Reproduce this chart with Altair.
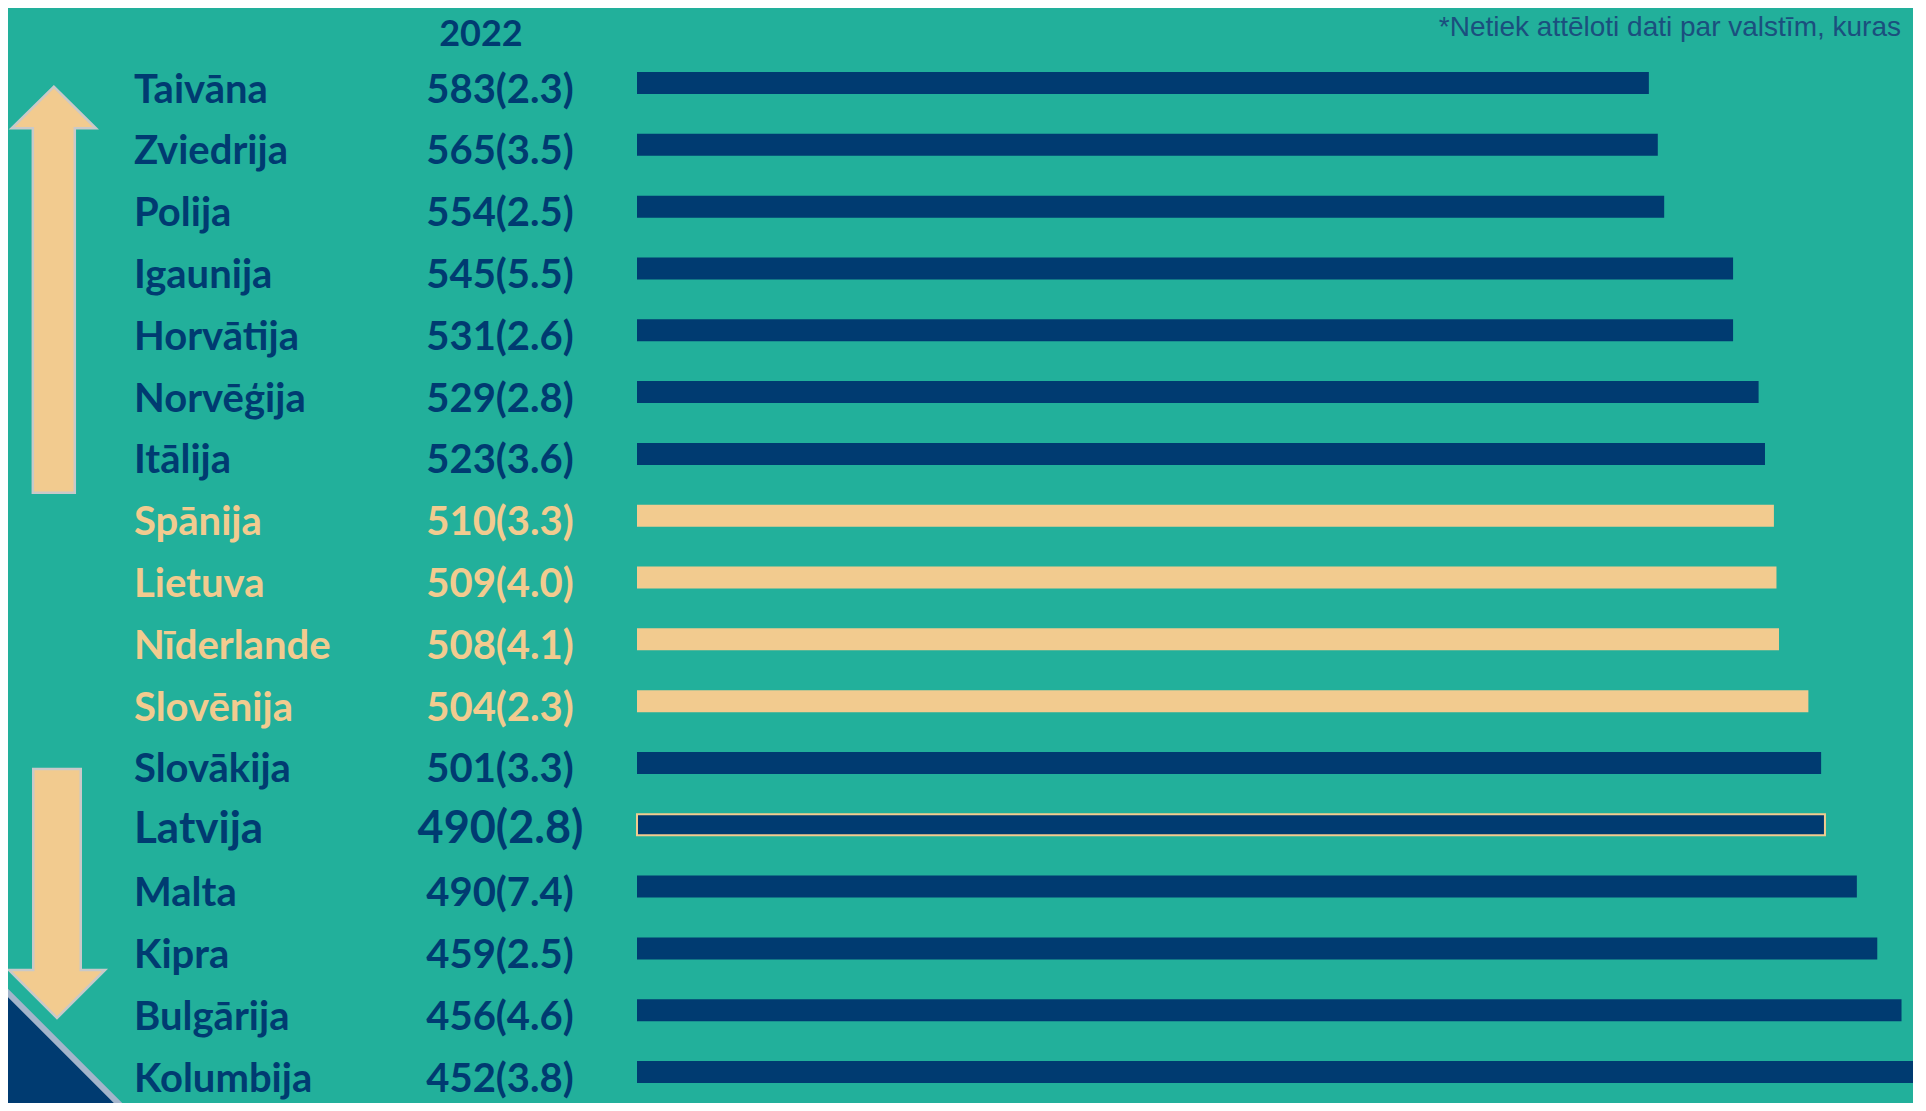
import altair as alt
import pandas as pd

# ---- data ----
countries = ["Taivāna", "Zviedrija", "Polija", "Igaunija", "Horvātija", "Norvēģija",
             "Itālija", "Spānija", "Lietuva", "Nīderlande", "Slovēnija", "Slovākija",
             "Latvija", "Malta", "Kipra", "Bulgārija", "Kolumbija"]
scores = [583, 565, 554, 545, 531, 529, 523, 510, 509, 508, 504, 501, 490, 490, 459, 456, 452]
std_err = [2.3, 3.5, 2.5, 5.5, 2.6, 2.8, 3.6, 3.3, 4.0, 4.1, 2.3, 3.3, 2.8, 7.4, 2.5, 4.6, 3.8]
bar_len = [79.3, 80.0, 80.5, 85.9, 85.9, 87.9, 88.4, 89.1, 89.3, 89.5, 91.8, 92.8, 93.1,
           95.6, 97.2, 99.1, 103.0]
beige_group = ["Spānija", "Lietuva", "Nīderlande", "Slovēnija"]
home = "Latvija"
year_label = "2022"
footnote = "*Netiek attēloti dati par valstīm, kuras"

# ---- styles ----
BG = "#22B09B"
NAVY = "#003B71"
BEIGE = "#F2CB8F"
FONT = "Lato"

grp = ["home" if c == home else ("beige" if c in beige_group else "navy") for c in countries]
df = pd.DataFrame({
    "country": countries,
    "score": scores,
    "se": std_err,
    "bar": bar_len,
    "grp": grp,
})
df["label"] = [f"{s}({e:.1f})" for s, e in zip(scores, std_err)]

W, H = 1905, 1095
xs = alt.Scale(domain=[0, 100], range=[629, 1905])
Y = alt.Y("country:N", sort=countries, axis=None,
          scale=alt.Scale(type="point", range=[75.0, 1064.0], padding=0))
cs = alt.Scale(domain=["navy", "beige", "home"], range=[NAVY, BEIGE, NAVY])
C = alt.Color("grp:N", scale=cs, legend=None)

base = alt.Chart(df)

bars = base.transform_filter(alt.datum.grp != "home").mark_bar(size=22, clip=True).encode(
    x=alt.X("bar:Q", scale=xs, axis=None), y=Y, color=C)
home_bar = base.transform_filter(alt.datum.grp == "home").mark_bar(
    size=21, fill=NAVY, stroke=BEIGE, strokeWidth=2, clip=True).encode(
    x=alt.X("bar:Q", scale=xs, axis=None), y=Y)

labels = base.transform_filter(alt.datum.grp != "home").mark_text(
    align="left", baseline="alphabetic", dy=19.5, font=FONT, fontWeight="bold", fontSize=40
).encode(x=alt.value(126), y=Y, text="country:N", color=C)
home_label = base.transform_filter(alt.datum.grp == "home").mark_text(
    align="left", baseline="alphabetic", dy=18, font=FONT, fontWeight="bold", fontSize=44,
    color=NAVY).encode(x=alt.value(126), y=Y, text="country:N")

values = base.transform_filter(alt.datum.grp != "home").mark_text(
    align="center", baseline="alphabetic", dy=19.5, font=FONT, fontWeight="bold", fontSize=40
).encode(x=alt.value(492), y=Y, text="label:N", color=C)
home_value = base.transform_filter(alt.datum.grp == "home").mark_text(
    align="center", baseline="alphabetic", dy=18, font=FONT, fontWeight="bold", fontSize=45,
    color=NAVY).encode(x=alt.value(492.5), y=Y, text="label:N")

deco = alt.Chart(pd.DataFrame({"k": [0]}))

header = deco.mark_text(text=year_label, align="center", baseline="alphabetic", font=FONT,
                        fontWeight="bold", fontSize=36, color=NAVY).encode(
    x=alt.value(473), y=alt.value(38))
note = deco.mark_text(text=footnote, align="right", baseline="alphabetic",
                      font="Liberation Sans", fontSize=28, color="#1B4F7E").encode(
    x=alt.value(1893), y=alt.value(28))

UP = ("M0,-1 L0.2076,-0.795 L0.1034,-0.795 L0.1034,1 L-0.1034,1 "
      "L-0.1034,-0.795 L-0.2076,-0.795 Z")
DOWN = ("M-0.1908,-1 L0.1908,-1 L0.1908,0.614 L0.3855,0.614 L0,1 "
        "L-0.3855,0.614 L-0.1908,0.614 Z")
up_arrow = deco.mark_point(shape=UP, size=406 ** 2, filled=True, fill=BEIGE, stroke="#C9C9C9",
                           strokeWidth=2.5, opacity=1).encode(
    x=alt.value(45.8), y=alt.value(281.7))
down_arrow = deco.mark_point(shape=DOWN, size=249 ** 2, filled=True, fill=BEIGE,
                             stroke="#C9C9C9", strokeWidth=2.5, opacity=1).encode(
    x=alt.value(49), y=alt.value(885.5))
badge = deco.mark_point(shape="diamond", size=600 ** 2, filled=True, fill=NAVY,
                        stroke="#A3B5CB", strokeWidth=6, strokeJoin="round", opacity=1).encode(
    x=alt.value(-16), y=alt.value(1269))

chart = alt.layer(
    badge, up_arrow, down_arrow, bars, home_bar, labels, home_label, values, home_value,
    header, note
).properties(
    width=W, height=H, background=BG, padding=0,
    autosize=alt.AutoSizeParams(type="none"),
).configure_view(stroke=None)

chart.save("out.html", embed_options={"renderer": "svg", "actions": False})
